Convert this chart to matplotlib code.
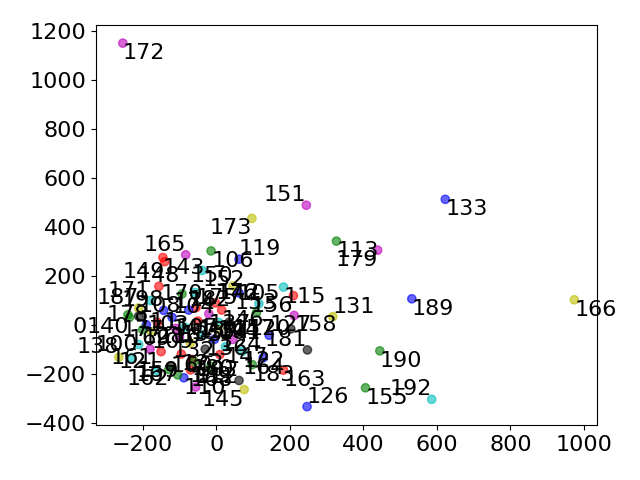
import matplotlib
matplotlib.use("Agg")
import matplotlib.pyplot as plt

plt.rcParams['font.size'] = 16

# point coordinates, colour letters, labels and label alignment
xs = [-254, 245, 623, 97, 327, 439, 974, 532, 317, 445, 586, 406, 247, 183, 248,
      62, -14, -83, -140, -38, 46, 183, -156, -93, -58, 62, 210, 116, 109, 62,
      76, -129, -88, -56, 98, 128, 71, 10, 212, 203, 144, 7, -145, -179, -211,
      -143, -240, -236, -265, -230, -55, -2, -66,
      -211, -190, -175, -160, -211, -150, -120, -110, -100, -95, -85, -75, -70,
      -60, -50, -40, -30, -20, -15, -5, 5, 15, 25, 35, 45, -160, -125, -105,
      -70, -180, -200]
ys = [1152, 489, 513, 435, 342, 305, 102, 106, 33, -107, -305, -258, -335, -186, -103,
      268, 302, 286, 258, 222, 159, 154, 157, 126, 132, 130, 119, 86, 48, -228,
      -265, -183, -217, -255, -163, -135, -109, -122, 38, -17, -43, 9, 275, 99, 68,
      59, 41, 30, -133, -135, 70, 89, -142,
      35, 0, -30, 10, -81, -110, 30, -15, -50, -120, -10, 60, -75,
      -150, 15, -40, -100, 45, -170, -60, -20, 60, -90, 10, -60, -190, -170, -205,
      -185, -100, -20]
cols = ['m', 'm', 'b', 'y', 'g', 'm', 'y', 'b', 'y', 'g', 'c', 'g', 'b', 'r', 'k',
        'b', 'g', 'm', 'r', 'c', 'y', 'c', 'r', 'g', 'c', 'b', 'r', 'c', 'g', 'k',
        'y', 'g', 'b', 'm', 'g', 'b', 'c', 'r', 'm', 'k', 'b', 'c', 'r', 'c', 'y',
        'b', 'g', 'g', 'y', 'c', 'r', 'r', 'r',
        'k', 'b', 'y', 'r', 'c', 'r', 'b', 'm', 'm', 'r', 'c', 'b', 'y',
        'g', 'r', 'c', 'k', 'm', 'g', 'b', 'y', 'r', 'c', 'k', 'm', 'c', 'k', 'g',
        'r', 'm', 'g']
labels = ['172', '151', '133', '173', '113', '179', '166', '189', '131', '190', '192', '155', '126', '163', '181',
          '119', '106', '165', '149', '152', '150', '115', '148', '170', '174', '142', '156', '105', '153', '102',
          '145', '162', '110', '112', '183', '164', '122', '124', '158', '120', '127', '101', '143', '171', '187',
          '198', '178', '140', '138', '161', '175', '176', '180',
          '108', '103', '109', '111', '100', '121', '104', '107', '116', '123', '128', '182', '130',
          '132', '134', '135', '136', '137', '139', '141', '144', '146', '147', '154', '157', '159', '160', '167',
          '168', '169', '177']
has = ['left', 'right', 'left', 'right', 'left', 'right', 'left', 'left', 'left', 'left', 'right', 'left', 'left', 'left', 'right',
       'left', 'left', 'right', 'right', 'left', 'right', 'left', 'center', 'center', 'center', 'center', 'right', 'center', 'center', 'right',
       'right', 'right', 'left', 'left', 'left', 'center', 'left', 'left', 'left', 'right', 'left', 'left', 'left', 'right', 'right',
       'right', 'center', 'right', 'right', 'center', 'left', 'left', 'left',
       'left', 'left', 'left', 'center', 'right', 'right', 'left', 'left', 'center', 'left', 'right', 'left', 'left',
       'center', 'left', 'center', 'left', 'left', 'center', 'right', 'left', 'left', 'left', 'center', 'left', 'center', 'left', 'right',
       'left', 'center', 'center']
vas = ['top', 'bottom', 'top', 'top', 'top', 'top', 'top', 'top', 'bottom', 'top', 'bottom', 'top', 'bottom', 'top', 'bottom',
       'bottom', 'top', 'bottom', 'top', 'top', 'bottom', 'top', 'bottom', 'center', 'top', 'center', 'top', 'bottom', 'bottom', 'bottom',
       'top', 'top', 'top', 'bottom', 'top', 'top', 'top', 'bottom', 'top', 'center', 'bottom', 'top', 'top', 'bottom', 'bottom',
       'bottom', 'center', 'top', 'bottom', 'center', 'bottom', 'bottom', 'top',
       'bottom', 'center', 'top', 'center', 'center', 'top', 'bottom', 'center', 'center', 'top', 'top', 'bottom', 'bottom',
       'bottom', 'top', 'center', 'center', 'top', 'top', 'bottom', 'center', 'top', 'top', 'top', 'bottom', 'center', 'center', 'center',
       'top', 'bottom', 'center']
yticks = [-400, -200, 0, 200, 400, 600, 800, 1000, 1200]

fig, ax = plt.subplots(figsize=(6.4, 4.8), dpi=100)
ax.scatter(xs, ys, c=cols, alpha=0.6)
for i in range(len(xs)):
    ax.text(xs[i], ys[i], labels[i], ha=has[i], va=vas[i])
ax.set_yticks(yticks)

fig.subplots_adjust(left=0.15, right=0.933, top=0.948, bottom=0.115)
fig.savefig('out.png')
